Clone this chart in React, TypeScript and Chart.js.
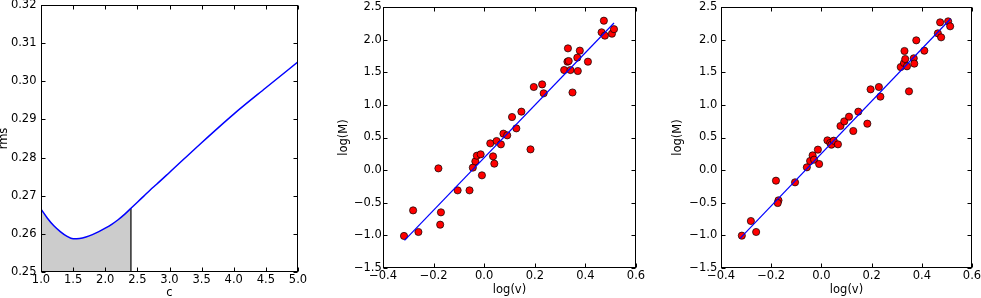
import React, { useEffect, useRef } from "react";
import { Chart, registerables } from "chart.js";

Chart.register(...registerables);

// ---------- Data ----------
// Panel 1: rms as a function of c
const cValues = [1.0, 1.1, 1.2, 1.3, 1.4, 1.5, 1.6, 1.7, 1.8, 1.9, 2.0, 2.1, 2.2, 2.3, 2.4, 2.5, 2.6, 2.7, 2.8, 3.0, 3.5, 4.0, 4.5, 5.0];
const rmsValues = [0.2665, 0.2641, 0.2621, 0.2606, 0.2594, 0.2587, 0.2588, 0.2592, 0.2598, 0.2606, 0.2615, 0.2625, 0.2637, 0.2651, 0.2667, 0.2683, 0.2699, 0.2715, 0.2730, 0.2761, 0.2839, 0.2914, 0.2983, 0.3051];
const shadeEndC = 2.4;
const rmsAxisMin = 0.25;

// Panels 2 and 3: log(v) vs log(M)
const logV = [-0.317, -0.281, -0.260, -0.181, -0.171, -0.174, -0.105, -0.058, -0.045, -0.035, -0.029, -0.014, -0.009, 0.024, 0.035, 0.040, 0.049, 0.066, 0.076, 0.091, 0.110, 0.127, 0.147, 0.183, 0.196, 0.229, 0.235, 0.316, 0.331, 0.329, 0.334, 0.341, 0.349, 0.368, 0.370, 0.378, 0.410, 0.464, 0.473, 0.477, 0.505, 0.513];
const logM1 = [-1.009, -0.617, -0.948, 0.027, -0.647, -0.836, -0.31, -0.31, 0.038, 0.134, 0.221, 0.242, -0.08, 0.41, 0.211, 0.099, 0.446, 0.395, 0.559, 0.533, 0.814, 0.64, 0.896, 0.318, 1.274, 1.314, 1.177, 1.534, 1.866, 1.662, 1.672, 1.534, 1.19, 1.724, 1.519, 1.831, 1.662, 2.112, 2.29, 2.061, 2.091, 2.16];
const logM2 = [-1.004, -0.78, -0.948, -0.162, -0.463, -0.504, -0.187, 0.043, 0.14, 0.226, 0.16, 0.314, 0.094, 0.456, 0.416, 0.39, 0.451, 0.395, 0.676, 0.747, 0.819, 0.6, 0.896, 0.712, 1.238, 1.274, 1.126, 1.58, 1.826, 1.642, 1.703, 1.591, 1.207, 1.714, 1.632, 1.989, 1.831, 2.096, 2.265, 2.035, 2.28, 2.204];
const fit1X = [-0.315, 0.513];
const fit1Y = [-1.076, 2.255];
const fit2X = [-0.324, 0.514];
const fit2Y = [-1.045, 2.316];

// ---------- Styling helpers ----------
const FONT = "'DejaVu Sans', sans-serif";
const FS = 11.5;

function fmt(v: number, d: number) {
  const p = Math.pow(10, d);
  const r = Math.round(v * p) / p;
  return (r === 0 ? 0 : r).toFixed(d).replace("-", "\u2212");
}

function axis(o: {
  min: number; max: number; step: number; digits: number; title: string;
  titlePad: number; tickPad: number; size: number; isY: boolean;
}) {
  return {
    type: "linear",
    min: o.min,
    max: o.max,
    position: o.isY ? "left" : "bottom",
    grid: { display: false, drawTicks: false },
    border: { display: false },
    ticks: {
      stepSize: o.step,
      padding: o.tickPad,
      color: "#000",
      autoSkip: false,
      maxRotation: 0,
      font: { family: FONT, size: FS },
      callback: (v: number) => fmt(Number(v), o.digits),
    },
    title: {
      display: true,
      text: o.title,
      color: "#000",
      font: { family: FONT, size: FS },
      padding: o.isY ? { top: o.titlePad, bottom: 0 } : { top: 0, bottom: o.titlePad },
    },
    afterFit: (s: any) => {
      if (o.isY) s.width = o.size;
      else s.height = o.size;
      s.paddingTop = 0;
      s.paddingBottom = 0;
      s.paddingLeft = 0;
      s.paddingRight = 0;
    },
  };
}

const boxPlugin = {
  id: "mplBox",
  afterDraw(chart: any) {
    const { ctx, chartArea } = chart;
    const { left, right, top, bottom } = chartArea;
    const xs = chart.scales.x;
    const ys = chart.scales.y;
    const L = Math.round(left) + 0.5;
    const R = Math.round(right) - 0.5;
    const T = Math.round(top) + 0.5;
    const B = Math.round(bottom) - 0.5;
    ctx.save();
    ctx.strokeStyle = "#000";
    ctx.lineWidth = 1;
    ctx.beginPath();
    xs.ticks.forEach((t: any) => {
      const px = Math.round(xs.getPixelForValue(t.value)) + 0.5;
      ctx.moveTo(px, B);
      ctx.lineTo(px, B - 4);
      ctx.moveTo(px, T);
      ctx.lineTo(px, T + 4);
    });
    ys.ticks.forEach((t: any) => {
      const py = Math.round(ys.getPixelForValue(t.value)) + 0.5;
      ctx.moveTo(L, py);
      ctx.lineTo(L + 4, py);
      ctx.moveTo(R, py);
      ctx.lineTo(R - 4, py);
    });
    ctx.stroke();
    ctx.strokeRect(L, T, R - L, B - T);
    ctx.restore();
  },
};

function baseOptions(layout: { top: number; right: number }, scales: any) {
  return {
    responsive: false,
    animation: false,
    devicePixelRatio: 1,
    layout: { padding: { left: 0, right: layout.right, top: layout.top, bottom: 0 }, autoPadding: false },
    plugins: { legend: { display: false }, tooltip: { enabled: false } },
    scales,
  };
}

function rmsConfig() {
  const curve = cValues.map((c, i) => ({ x: c, y: rmsValues[i] }));
  const shade = curve.filter((p) => p.x <= shadeEndC + 1e-9);
  const edgeY = rmsValues[cValues.indexOf(shadeEndC)];
  return {
    type: "scatter",
    data: {
      datasets: [
        {
          data: curve, showLine: true, borderColor: "#0000ff", borderWidth: 1.5,
          pointRadius: 0, cubicInterpolationMode: "monotone", fill: false,
        },
        {
          data: [{ x: shadeEndC, y: rmsAxisMin }, { x: shadeEndC, y: edgeY }],
          showLine: true, borderColor: "#000", borderWidth: 1.2, pointRadius: 0, fill: false,
        },
        {
          data: shade, showLine: true, borderWidth: 0, borderColor: "rgba(0,0,0,0)",
          backgroundColor: "#cccccc", pointRadius: 0, cubicInterpolationMode: "monotone", fill: "start",
        },
      ],
    },
    options: baseOptions({ top: 5, right: 22 }, {
      x: axis({ min: 1, max: 5, step: 0.5, digits: 1, title: "c", titlePad: -1.6, tickPad: 1.5, size: 26, isY: false }),
      y: axis({ min: 0.25, max: 0.32, step: 0.01, digits: 2, title: "rms", titlePad: -2.6, tickPad: 4.5, size: 41, isY: true }),
    }),
    plugins: [boxPlugin],
  };
}

function logConfig(ys: number[], fx: number[], fy: number[], yW: number, right: number, yTickPad: number, yTitlePad: number) {
  return {
    type: "scatter",
    data: {
      datasets: [
        {
          data: fx.map((x, i) => ({ x, y: fy[i] })), showLine: true, borderColor: "#0000ff",
          borderWidth: 1.2, pointRadius: 0, fill: false,
        },
        {
          data: logV.map((x, i) => ({ x, y: ys[i] })), pointRadius: 3.6,
          backgroundColor: "#ff0000", borderColor: "#000", borderWidth: 0.7,
        },
      ],
    },
    options: baseOptions({ top: 7, right }, {
      x: axis({ min: -0.4, max: 0.6, step: 0.2, digits: 1, title: "log(v)", titlePad: 0.6, tickPad: 1.5, size: 30, isY: false }),
      y: axis({ min: -1.5, max: 2.5, step: 0.5, digits: 1, title: "log(M)", titlePad: yTitlePad, tickPad: yTickPad, size: yW, isY: true }),
    }),
    plugins: [boxPlugin],
  };
}

function Plot(props: { left: number; width: number; make: () => any }) {
  const ref = useRef<HTMLCanvasElement | null>(null);
  useEffect(() => {
    const chart = new Chart(ref.current as HTMLCanvasElement, props.make());
    return () => chart.destroy();
  }, []);
  return (
    <canvas
      ref={ref}
      width={props.width}
      height={298}
      style={{ position: "absolute", left: props.left, top: 0, width: props.width, height: 298 }}
    />
  );
}

export default function App() {
  return (
    <div style={{ position: "absolute", left: 0, top: 0, width: 981, height: 298, background: "#fff", overflow: "hidden" }}>
      <Plot left={0} width={320} make={rmsConfig} />
      <Plot left={330} width={330} make={() => logConfig(logM1, fit1X, fit1Y, 53, 24, 1.2, 7.1)} />
      <Plot left={660} width={321} make={() => logConfig(logM2, fit2X, fit2Y, 61, 9, 3.8, 11.1)} />
    </div>
  );
}
